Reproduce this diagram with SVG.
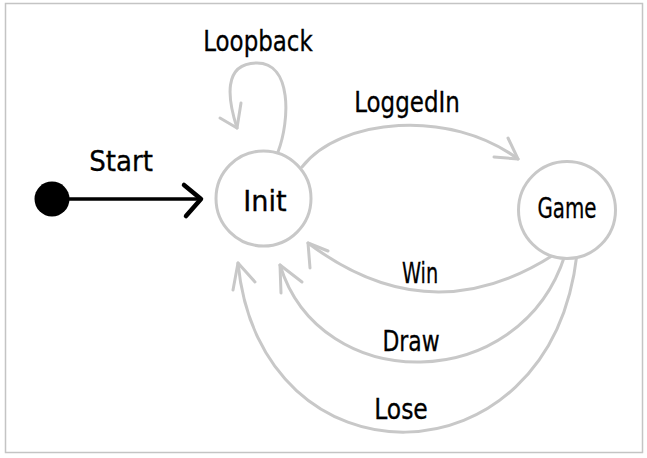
<svg xmlns="http://www.w3.org/2000/svg" width="647" height="458" viewBox="0 0 647 458">
  <style>
    .frame { fill: #ffffff; stroke: #c4c4c4; stroke-width: 1.5; }
    .state { fill: #ffffff; stroke: #c8c8c8; stroke-width: 3; }
    .edge { fill: none; stroke: #c8c8c8; stroke-width: 3; stroke-linecap: round; stroke-linejoin: round; }
    .head { fill: none; stroke: #c8c8c8; stroke-width: 3; stroke-linecap: round; stroke-linejoin: round; }
    .start-edge { fill: none; stroke: #000000; stroke-width: 3.5; stroke-linecap: round; }
    .start-head { fill: none; stroke: #000000; stroke-width: 4.5; stroke-linecap: round; stroke-linejoin: round; }
    text { font-family: "DejaVu Sans Condensed", "Liberation Sans Narrow", "Liberation Sans", sans-serif; font-size: 29px; fill: #000000; stroke: #000000; stroke-width: 0.3; text-anchor: middle; }
  </style>

  <rect class="frame" x="5.5" y="3.5" width="637" height="449"/>

  <!-- transitions; labels are narrowed horizontally with scale() -->
  <g id="connectors">
    <!-- initial pseudo-state to Init -->
    <g id="edge-start">
      <line class="start-edge" x1="52" y1="199" x2="200" y2="199"/>
      <polyline class="start-head" points="184,185 201,199 186,216"/>
      <text transform="translate(121 171) scale(1 1)">Start</text>
    </g>
    <!-- Init self loop -->
    <g id="edge-loopback">
      <path class="edge" d="M 278 152 C 290 120, 292 63, 257 63 C 222 63, 228 100, 237 128"/>
      <polyline class="head" points="220,118 237,128 241,103"/>
      <text transform="translate(258 51) scale(0.88 1)">Loopback</text>
    </g>
    <!-- Init to Game -->
    <g id="edge-loggedin">
      <path class="edge" d="M 302 167 C 340 118, 450 108, 518 159"/>
      <polyline class="head" points="508,138 518,159 494,157"/>
      <text transform="translate(407 112) scale(0.88 1)">LoggedIn</text>
    </g>
    <!-- Game back to Init -->
    <g id="edge-win">
      <path class="edge" d="M 555 254 Q 430 335 308 243"/>
      <polyline class="head" points="310,268 308,243 328,251"/>
      <text transform="translate(420 283) scale(0.74 1)">Win</text>
    </g>
    <g id="edge-draw">
      <path class="edge" d="M 565 255 C 520 396, 320 396, 280 265"/>
      <polyline class="head" points="281,293 280,265 302,282"/>
      <text transform="translate(411 351) scale(0.84 1)">Draw</text>
    </g>
    <g id="edge-lose">
      <path class="edge" d="M 577 254 C 550 490, 260 490, 238 263"/>
      <polyline class="head" points="233,290 238,263 255,282"/>
      <text transform="translate(401 419) scale(0.9 1)">Lose</text>
    </g>
  </g>

  <!-- states -->
  <g id="start">
    <circle cx="52" cy="199" r="17.5" fill="#000000"/>
  </g>
  <g id="init">
    <circle class="state" cx="263.5" cy="198.5" r="47.5"/>
    <text transform="translate(265 211) scale(1.04 1)">Init</text>
  </g>
  <g id="game">
    <circle class="state" cx="567" cy="210" r="48.5"/>
    <text transform="translate(567 218) scale(0.76 1)">Game</text>
  </g>
</svg>
